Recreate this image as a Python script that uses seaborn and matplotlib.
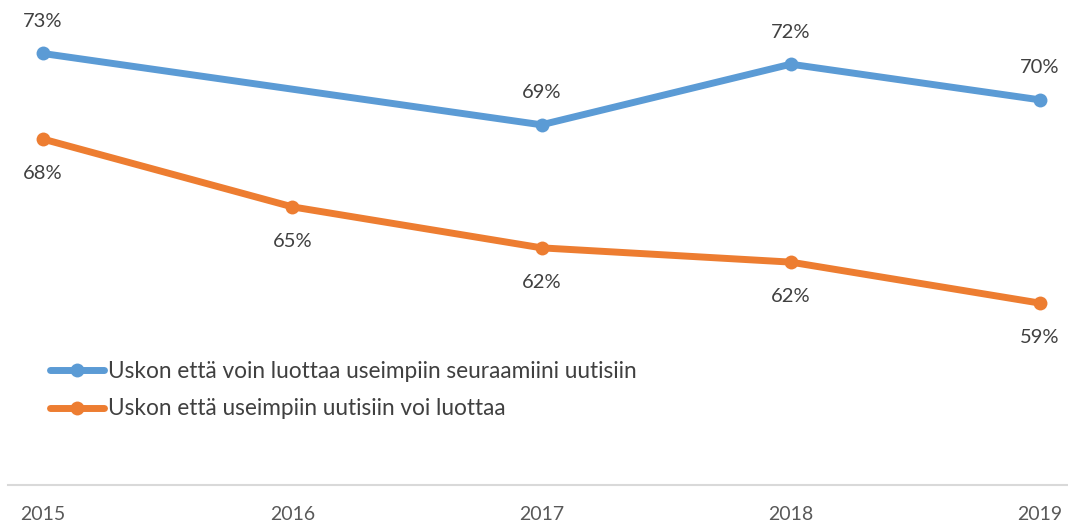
import numpy as np
import pandas as pd
import seaborn as sns
import matplotlib.pyplot as plt

# Data
years = [2015, 2016, 2017, 2018, 2019]
series_names = ["Uskon että voin luottaa useimpiin seuraamiini uutisiin",
                "Uskon että useimpiin uutisiin voi luottaa"]
own_news = [73.0, np.nan, 69.0, 72.4, 70.4]
all_news = [68.2, 64.4, 62.1, 61.3, 59.0]
own_labels = ["73%", "", "69%", "72%", "70%"]
all_labels = ["68%", "65%", "62%", "62%", "59%"]

colors = ["#5B9BD5", "#ED7D31"]
text_color = "#404040"

df = pd.DataFrame({
    "year": years * 2,
    "value": own_news + all_news,
    "series": [series_names[0]] * 5 + [series_names[1]] * 5,
})
df = df.dropna()

sns.set_theme(style="white")
plt.rcParams['font.family'] = ['Lato', 'DejaVu Sans']

fig = plt.figure(figsize=(10.68, 5.27), dpi=100)
ax = fig.add_axes([8 / 1068, 42 / 527, 1060 / 1068, 485 / 527])

sns.lineplot(data=df, x="year", y="value", hue="series", palette=colors,
             marker="o", markersize=10, markeredgewidth=0, linewidth=5,
             ax=ax, legend=True)

# data labels: blue above, orange below
for x, v, lab in zip(years, own_news, own_labels):
    if lab:
        ax.annotate(lab, (x, v), xytext=(0, 23), textcoords="offset points",
                    ha="center", va="center", fontsize=14.5, color=text_color)
for x, v, lab in zip(years, all_news, all_labels):
    ax.annotate(lab, (x, v), xytext=(0, -25), textcoords="offset points",
                ha="center", va="center", fontsize=14.5, color=text_color)

ax.set_xlim(2015 - 35 / 249.25, 2019 + 28 / 249.25)
ax.set_ylim(48.8, 76.0)
ax.set_xticks(years)
ax.set_xticklabels([str(y) for y in years])
ax.set_yticks([])
ax.set_xlabel("")
ax.set_ylabel("")
ax.tick_params(axis="x", length=0, pad=15, labelsize=14, labelcolor="#595959")

for s in ["left", "right", "top"]:
    ax.spines[s].set_visible(False)
ax.spines["bottom"].set_color("#d9d9d9")
ax.spines["bottom"].set_linewidth(1.5)

leg = ax.legend(loc="center left", bbox_to_anchor=(50 / 1068, 1 - 390 / 527),
                bbox_transform=fig.transFigure, frameon=False, fontsize=16.3,
                handlelength=2.4, handletextpad=0.15, borderpad=0,
                borderaxespad=0, labelspacing=0.75)
for t in leg.get_texts():
    t.set_color(text_color)

fig.savefig("out.png", dpi=100)
